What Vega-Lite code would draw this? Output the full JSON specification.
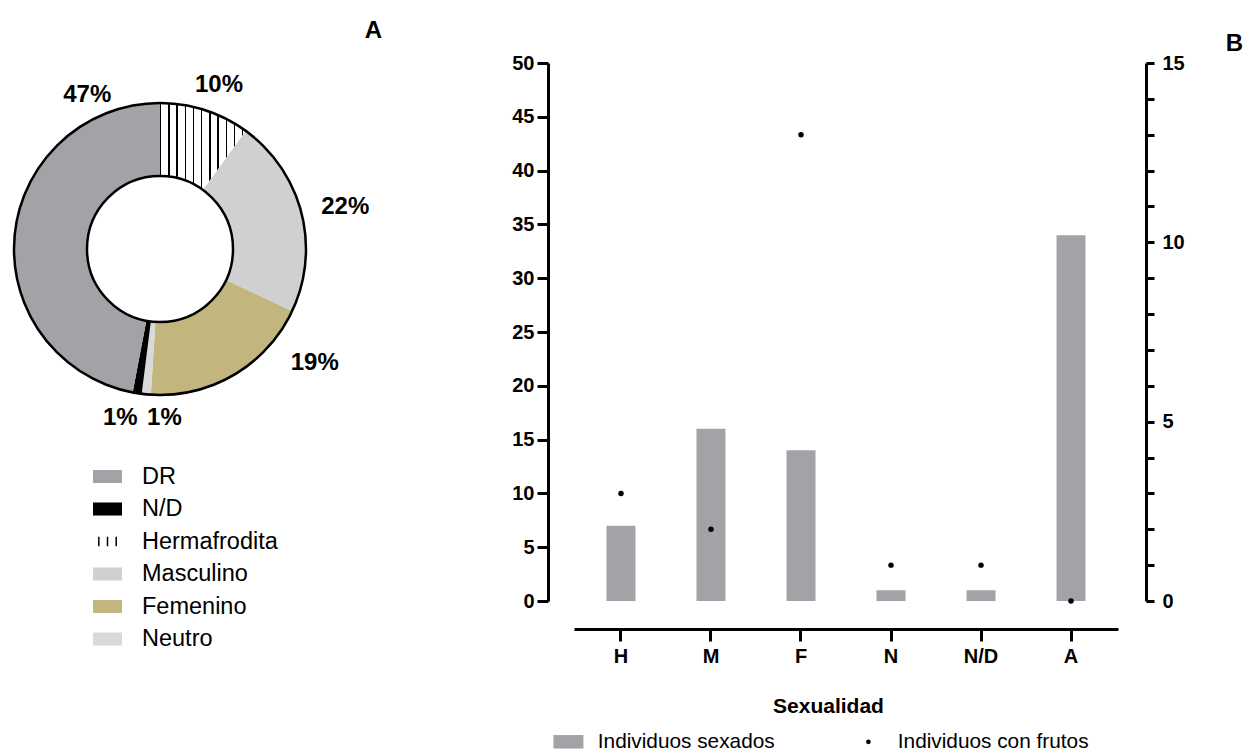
{
  "$schema": "https://vega.github.io/schema/vega-lite/v6.json",
  "background": "white",
  "padding": {"left": 0, "top": 19, "right": 0, "bottom": 0},
  "config": {"view": {"stroke": null}, "font": "Liberation Sans"},
  "bounds": "flush",
  "spacing": 254,
  "resolve": {"scale": {"fill": "independent"}, "legend": {"fill": "independent"}},
  "hconcat": [
    {
      "width": 320,
      "height": 372,
      "title": {"text": "A", "anchor": "end", "frame": "group", "dx": 62, "offset": 1, "fontSize": 24, "fontWeight": "bold", "font": "Liberation Sans", "baseline": "alphabetic", "color": "black"},
      "data": {"values": [
        {"cat": "Hermafrodita", "pct": 0.10},
        {"cat": "Masculino", "pct": 0.22},
        {"cat": "Femenino", "pct": 0.19},
        {"cat": "Neutro", "pct": 0.01},
        {"cat": "N/D", "pct": 0.01},
        {"cat": "DR", "pct": 0.47}
      ]},
      "transform": [
        {"window": [{"op": "row_number", "as": "idx"}]},
        {"stack": "pct", "groupby": [], "sort": [{"field": "idx", "order": "ascending"}], "as": ["v0", "v1"]}
      ],
      "layer": [
        {
          "mark": {"type": "arc", "innerRadius": 73, "outerRadius": 146},
          "encoding": {
            "theta": {"field": "v0", "type": "quantitative", "stack": null},
            "theta2": {"field": "v1"},
            "fill": {
              "condition": {"test": "datum.cat === 'Hermafrodita'", "value": {"gradient": "linear", "x1": 0, "x2": 1, "y1": 0, "y2": 0, "stops": [
                {"offset": 0, "color": "#000000"}, {"offset": 0.017, "color": "#000000"}, {"offset": 0.017, "color": "#ffffff"},
                {"offset": 0.0955, "color": "#ffffff"}, {"offset": 0.0955, "color": "#000000"}, {"offset": 0.1125, "color": "#000000"}, {"offset": 0.1125, "color": "#ffffff"},
                {"offset": 0.191, "color": "#ffffff"}, {"offset": 0.191, "color": "#000000"}, {"offset": 0.208, "color": "#000000"}, {"offset": 0.208, "color": "#ffffff"},
                {"offset": 0.2865, "color": "#ffffff"}, {"offset": 0.2865, "color": "#000000"}, {"offset": 0.3035, "color": "#000000"}, {"offset": 0.3035, "color": "#ffffff"},
                {"offset": 0.382, "color": "#ffffff"}, {"offset": 0.382, "color": "#000000"}, {"offset": 0.399, "color": "#000000"}, {"offset": 0.399, "color": "#ffffff"},
                {"offset": 0.4775, "color": "#ffffff"}, {"offset": 0.4775, "color": "#000000"}, {"offset": 0.4945, "color": "#000000"}, {"offset": 0.4945, "color": "#ffffff"},
                {"offset": 0.573, "color": "#ffffff"}, {"offset": 0.573, "color": "#000000"}, {"offset": 0.59, "color": "#000000"}, {"offset": 0.59, "color": "#ffffff"},
                {"offset": 0.6685, "color": "#ffffff"}, {"offset": 0.6685, "color": "#000000"}, {"offset": 0.6855, "color": "#000000"}, {"offset": 0.6855, "color": "#ffffff"},
                {"offset": 0.764, "color": "#ffffff"}, {"offset": 0.764, "color": "#000000"}, {"offset": 0.781, "color": "#000000"}, {"offset": 0.781, "color": "#ffffff"},
                {"offset": 0.8595, "color": "#ffffff"}, {"offset": 0.8595, "color": "#000000"}, {"offset": 0.8765, "color": "#000000"}, {"offset": 0.8765, "color": "#ffffff"},
                {"offset": 0.955, "color": "#ffffff"}, {"offset": 0.955, "color": "#000000"}, {"offset": 0.972, "color": "#000000"}, {"offset": 0.972, "color": "#ffffff"},
                {"offset": 1, "color": "#ffffff"}
              ]}},
              "field": "cat",
              "type": "nominal",
              "scale": {"domain": ["DR", "N/D", "Hermafrodita", "Masculino", "Femenino", "Neutro"], "range": ["#a3a2a7", "#000000", "#ffffff", "#d0d0d0", "#c2b67e", "#d9d9d9"]},
              "legend": {
                "orient": "none", "legendX": 92, "legendY": 398, "title": null, "direction": "vertical",
                "symbolSize": 841, "symbolStrokeWidth": 0, "labelFontSize": 23.5, "labelFont": "Liberation Sans", "labelColor": "black",
                "labelOffset": 19, "rowPadding": 5.5, "padding": 0, "labelLimit": 300,
                "encode": {"symbols": {"update": {
                  "shape": {"signal": "datum.value === 'Hermafrodita' ? 'M-0.6,-0.32V0.32M0,-0.32V0.32M0.6,-0.32V0.32' : 'M-1,-0.45H1V0.45H-1Z'"},
                  "stroke": {"signal": "datum.value === 'Hermafrodita' ? 'black' : 'transparent'"},
                  "strokeWidth": {"value": 1.5}
                }}}
              }
            }
          }
        },
        {
          "mark": {"type": "arc", "innerRadius": 73, "outerRadius": 146, "fill": "transparent", "stroke": "black", "strokeWidth": 2.5},
          "encoding": {"theta": {"aggregate": "sum", "field": "pct", "type": "quantitative"}}
        },
        {
          "transform": [{"filter": "datum.cat === 'Hermafrodita'"}],
          "mark": {"type": "text", "radius": 174, "thetaOffset": 0.346, "fontSize": 24, "fontWeight": "bold", "font": "Liberation Sans", "color": "black"},
          "encoding": {
            "theta": {"field": "v0", "type": "quantitative", "stack": null},
            "text": {"field": "pct", "type": "quantitative", "format": ".0%"}
          }
        },
        {
          "transform": [{"filter": "datum.cat === 'Masculino'"}],
          "mark": {"type": "text", "radius": 190, "thetaOffset": 0.719, "fontSize": 24, "fontWeight": "bold", "font": "Liberation Sans", "color": "black"},
          "encoding": {
            "theta": {"field": "v0", "type": "quantitative", "stack": null},
            "text": {"field": "pct", "type": "quantitative", "format": ".0%"}
          }
        },
        {
          "transform": [{"filter": "datum.cat === 'Femenino'"}],
          "mark": {"type": "text", "radius": 192, "thetaOffset": 0.194, "fontSize": 24, "fontWeight": "bold", "font": "Liberation Sans", "color": "black"},
          "encoding": {
            "theta": {"field": "v0", "type": "quantitative", "stack": null},
            "text": {"field": "pct", "type": "quantitative", "format": ".0%"}
          }
        },
        {
          "transform": [{"filter": "datum.cat === 'Neutro'"}],
          "mark": {"type": "text", "radius": 169, "thetaOffset": -0.089, "fontSize": 24, "fontWeight": "bold", "font": "Liberation Sans", "color": "black"},
          "encoding": {
            "theta": {"field": "v0", "type": "quantitative", "stack": null},
            "text": {"field": "pct", "type": "quantitative", "format": ".0%"}
          }
        },
        {
          "transform": [{"filter": "datum.cat === 'N/D'"}],
          "mark": {"type": "text", "radius": 174, "thetaOffset": 0.105, "fontSize": 24, "fontWeight": "bold", "font": "Liberation Sans", "color": "black"},
          "encoding": {
            "theta": {"field": "v0", "type": "quantitative", "stack": null},
            "text": {"field": "pct", "type": "quantitative", "format": ".0%"}
          }
        },
        {
          "transform": [{"filter": "datum.cat === 'DR'"}],
          "mark": {"type": "text", "radius": 170, "thetaOffset": -0.442, "fontSize": 24, "fontWeight": "bold", "font": "Liberation Sans", "color": "black"},
          "encoding": {
            "theta": {"field": "v1", "type": "quantitative", "stack": null},
            "text": {"field": "pct", "type": "quantitative", "format": ".0%"}
          }
        }
      ]
    },
    {
      "width": 544,
      "height": 538,
      "title": {"text": "B", "anchor": "end", "frame": "group", "dx": 125, "offset": -22, "fontSize": 24, "fontWeight": "bold", "font": "Liberation Sans", "baseline": "alphabetic", "color": "black"},
      "data": {"values": [
        {"cat": "H", "sexados": 7, "frutos": 3},
        {"cat": "M", "sexados": 16, "frutos": 2},
        {"cat": "F", "sexados": 14, "frutos": 13},
        {"cat": "N", "sexados": 1, "frutos": 1},
        {"cat": "N/D", "sexados": 1, "frutos": 1},
        {"cat": "A", "sexados": 34, "frutos": 0}
      ]},
      "encoding": {
        "x": {
          "field": "cat", "type": "nominal", "sort": null,
          "scale": {"paddingInner": 0.678, "paddingOuter": 0.361},
          "axis": {
            "title": "Sexualidad", "labelAngle": 0, "offset": 28, "grid": false,
            "domainColor": "black", "domainWidth": 3, "tickColor": "black", "tickWidth": 3, "tickSize": 12,
            "labelFont": "Liberation Sans", "labelFontSize": 20, "labelFontWeight": "bold", "labelColor": "black", "labelPadding": 5,
            "titleFont": "Liberation Sans", "titleFontSize": 21, "titleFontWeight": "bold", "titleColor": "black",
            "titleY": 83, "titleX": 254, "titleBaseline": "alphabetic", "titleAlign": "center"
          }
        }
      },
      "layer": [
        {
          "mark": {"type": "bar"},
          "encoding": {
            "y": {
              "field": "sexados", "type": "quantitative",
              "scale": {"domain": [0, 50], "nice": false},
              "axis": {
                "title": null, "orient": "left", "offset": 26, "grid": false,
                "values": [0, 5, 10, 15, 20, 25, 30, 35, 40, 45, 50],
                "domainColor": "black", "domainWidth": 3, "tickColor": "black", "tickWidth": 3, "tickSize": 11,
                "labelFont": "Liberation Sans", "labelFontSize": 20, "labelFontWeight": "bold", "labelColor": "black", "labelPadding": 3,
                "labelFlush": false, "labelOverlap": false
              }
            },
            "fill": {
              "datum": "Individuos sexados", "type": "nominal",
              "scale": {"domain": ["Individuos sexados", "Individuos con frutos"], "range": ["#a3a2a7", "#000000"]},
              "legend": {
                "orient": "none", "legendX": -16, "legendY": 668, "direction": "horizontal", "title": null,
                "symbolSize": 900, "symbolStrokeWidth": 0, "labelFontSize": 20.8, "labelFont": "Liberation Sans", "labelColor": "black",
                "labelOffset": 19, "columnPadding": 83, "padding": 0, "labelLimit": 400,
                "encode": {"symbols": {"update": {
                  "shape": {"signal": "datum.value === 'Individuos sexados' ? 'M-1,-0.45H1V0.45H-1Z' : 'circle'"},
                  "size": {"signal": "datum.value === 'Individuos sexados' ? 900 : 22"},
                  "strokeWidth": {"value": 0}
                }}}
              }
            }
          }
        },
        {
          "mark": {"type": "circle", "size": 30, "opacity": 1},
          "encoding": {
            "y": {
              "field": "frutos", "type": "quantitative",
              "scale": {"domain": [0, 15], "nice": false},
              "axis": {
                "title": null, "orient": "right", "offset": 28, "grid": false,
                "values": [0, 1, 2, 3, 4, 5, 6, 7, 8, 9, 10, 11, 12, 13, 14, 15],
                "labelExpr": "datum.value % 5 === 0 ? datum.label : ''",
                "domainColor": "black", "domainWidth": 3, "tickColor": "black", "tickWidth": 3, "tickSize": 8,
                "labelFont": "Liberation Sans", "labelFontSize": 20, "labelFontWeight": "bold", "labelColor": "black", "labelPadding": 8,
                "labelFlush": false, "labelOverlap": false
              }
            },
            "fill": {"datum": "Individuos con frutos", "type": "nominal"}
          }
        }
      ],
      "resolve": {"scale": {"y": "independent"}}
    }
  ]
}
